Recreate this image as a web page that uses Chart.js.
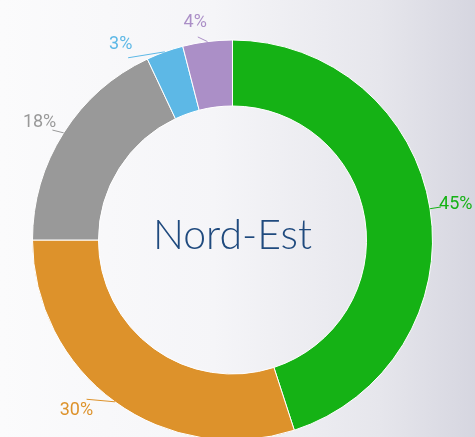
<!DOCTYPE html>
<html>
<head>
<meta charset="utf-8">
<script src="https://cdn.jsdelivr.net/npm/chart.js@4"></script>
<style>
  html, body { margin: 0; padding: 0; width: 475px; height: 437px; overflow: hidden; }
  body { background: linear-gradient(to right, #fbfbfc 0%, #f5f5f8 45%, #e6e6ec 80%, #d6d6e0 100%); position: relative; }
  #wrap { position: absolute; left: 0; top: 0; width: 475px; height: 480px; }
</style>
</head>
<body>
<div id="wrap"><canvas id="donut"></canvas></div>
<script>
// segments, clockwise from 12 o'clock
var categories = ['A', 'B', 'C', 'D', 'E'];
var shares = [45, 30, 18, 3, 4];
var colors = ['#15b215', '#dd922b', '#999999', '#5db8e6', '#ab8fc7'];
var centerTitle = 'Nord-Est';

// little angular nudges / gaps so the small labels don't collide
var labelNudge = [0, 6.5, -1, -10, -2.5];
var labelGap = [26, 31, 26, 25, 21];

var labelPlugin = {
    id: 'pctLabels',
    afterDatasetsDraw: function (chart) {
        var ctx = chart.ctx;
        var meta = chart.getDatasetMeta(0);
        ctx.save();
        ctx.font = '18px Roboto';
        ctx.textAlign = 'center';
        ctx.textBaseline = 'middle';
        meta.data.forEach(function (arc, i) {
            var p = arc.getProps(['x', 'y', 'startAngle', 'endAngle', 'outerRadius'], true);
            var mid = (p.startAngle + p.endAngle) / 2;
            var la = mid + labelNudge[i] * Math.PI / 180;
            var x0 = p.x + Math.cos(mid) * p.outerRadius;
            var y0 = p.y + Math.sin(mid) * p.outerRadius;
            var x1 = p.x + Math.cos(la) * (p.outerRadius + labelGap[i] - 15);
            var y1 = p.y + Math.sin(la) * (p.outerRadius + labelGap[i] - 15);
            var tx = p.x + Math.cos(la) * (p.outerRadius + labelGap[i]);
            var ty = p.y + Math.sin(la) * (p.outerRadius + labelGap[i]);
            ctx.strokeStyle = colors[i];
            ctx.lineWidth = 1;
            ctx.beginPath();
            ctx.moveTo(x0, y0);
            ctx.lineTo(x1, y1);
            ctx.stroke();
            ctx.fillStyle = colors[i];
            ctx.fillText(shares[i] + '%', tx, ty);
        });
        ctx.restore();
    }
};

var centerPlugin = {
    id: 'centerText',
    afterDraw: function (chart) {
        var arc = chart.getDatasetMeta(0).data[0];
        var ctx = chart.ctx;
        ctx.save();
        ctx.font = '300 41px Lato';
        ctx.fillStyle = '#1f4a7e';
        ctx.textAlign = 'center';
        ctx.textBaseline = 'alphabetic';
        ctx.fillText(centerTitle, arc.x, arc.y + 9);
        ctx.restore();
    }
};

var ctx = document.getElementById('donut').getContext('2d');
var donut = new Chart(ctx, {
    type: 'doughnut',
    data: {
        labels: categories,
        datasets: [{
            data: shares,
            backgroundColor: colors,
            borderColor: '#ffffff',
            borderWidth: 1
        }]
    },
    options: {
        responsive: true,
        maintainAspectRatio: false,
        animation: false,
        radius: 200,
        cutout: '67%',
        layout: { padding: { right: 10 } },
        plugins: {
            legend: { display: false },
            tooltip: { enabled: false }
        }
    },
    plugins: [labelPlugin, centerPlugin]
});
</script>
</body>
</html>
